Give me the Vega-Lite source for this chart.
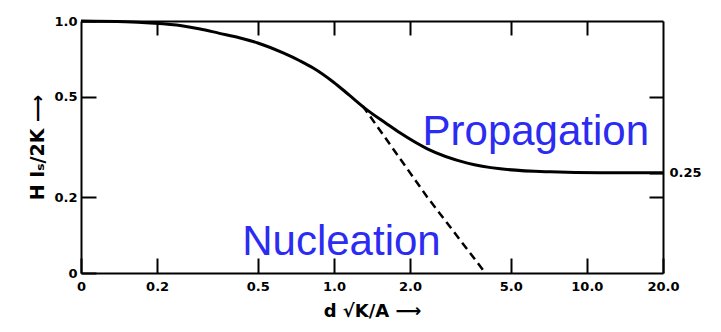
{
  "$schema": "https://vega.github.io/schema/vega-lite/v6.json",
  "autosize": "none",
  "width": 582,
  "height": 252,
  "padding": {"left": 81, "top": 21, "right": 58, "bottom": 59},
  "background": "white",
  "view": {"stroke": null},
  "config": {
    "axis": {
      "domainColor": "black",
      "domainWidth": 2,
      "tickColor": "black",
      "tickWidth": 2,
      "grid": false,
      "labelFont": "DejaVu Sans",
      "labelFontSize": 13,
      "labelFontWeight": "bold",
      "labelColor": "black",
      "titleFont": "DejaVu Sans",
      "titleFontSize": 18,
      "titleFontWeight": "bold",
      "titleColor": "black"
    }
  },
  "datasets": {
    "solid": [
      {"x": 0.1, "y": 1.0},
      {"x": 0.15, "y": 0.993},
      {"x": 0.1875, "y": 0.982},
      {"x": 0.25, "y": 0.958},
      {"x": 0.296, "y": 0.93},
      {"x": 0.35, "y": 0.895},
      {"x": 0.426, "y": 0.856},
      {"x": 0.5, "y": 0.818},
      {"x": 0.63, "y": 0.747},
      {"x": 0.736, "y": 0.694},
      {"x": 0.828, "y": 0.651},
      {"x": 0.994, "y": 0.573},
      {"x": 1.15, "y": 0.508},
      {"x": 1.355, "y": 0.443},
      {"x": 1.6, "y": 0.394},
      {"x": 1.83, "y": 0.359},
      {"x": 2.34, "y": 0.311},
      {"x": 3.37, "y": 0.273},
      {"x": 4.55, "y": 0.259},
      {"x": 7.18, "y": 0.252},
      {"x": 11.3, "y": 0.25},
      {"x": 20, "y": 0.25}
    ],
    "dashed": [
      {"x": 1.3, "y": 0.46},
      {"x": 2.34, "y": 0.2},
      {"x": 3.97, "y": 0.1}
    ],
    "labels": [
      {"x": 2.24, "y": 0.322, "text": "Propagation"},
      {"x": 0.434, "y": 0.118, "text": "Nucleation"}
    ]
  },
  "layer": [
    {
      "data": {"name": "solid"},
      "mark": {"type": "line", "color": "black", "strokeWidth": 3, "interpolate": "monotone"},
      "encoding": {
        "x": {
          "field": "x", "type": "quantitative",
          "scale": {"type": "log", "domain": [0.1, 20]},
          "axis": {
            "orient": "bottom",
            "values": [0.1, 0.2, 0.5, 1, 2, 5, 10, 20],
            "labelExpr": "datum.value == 0.1 ? '0' : format(datum.value, '.1f')",
            "tickSize": -15,
            "labelPadding": 22,
            "labelFlush": false,
            "title": "d √K/A  ⟶",
            "titlePadding": 9
          }
        },
        "y": {
          "field": "y", "type": "quantitative",
          "scale": {"type": "log", "domain": [0.1, 1]},
          "axis": {
            "orient": "left",
            "values": [0.1, 0.2, 0.5, 1],
            "labelExpr": "datum.value == 0.1 ? '0' : format(datum.value, '.1f')",
            "tickSize": -15,
            "labelPadding": 19,
            "labelFlush": false,
            "title": "H Iₛ/2K  ⟶",
            "titleFontSize": 19,
            "titlePadding": 6
          }
        }
      }
    },
    {
      "data": {"name": "dashed"},
      "mark": {"type": "line", "color": "black", "strokeWidth": 2.5, "strokeDash": [8, 5]},
      "encoding": {
        "x": {
          "field": "x", "type": "quantitative",
          "scale": {"type": "log", "domain": [0.1, 20]},
          "axis": {
            "orient": "top",
            "values": [0.2, 0.5, 1, 2, 5, 10],
            "labels": false,
            "tickSize": -14,
            "title": null
          }
        },
        "y": {
          "field": "y", "type": "quantitative",
          "scale": {"type": "log", "domain": [0.1, 1]},
          "axis": {
            "orient": "right",
            "values": [0.2, 0.25, 0.5],
            "labelExpr": "datum.value == 0.25 ? '0.25' : ''",
            "tickSize": -14,
            "labelPadding": 20,
            "title": null
          }
        }
      }
    },
    {
      "data": {"name": "labels"},
      "mark": {"type": "text", "align": "left", "baseline": "alphabetic", "font": "Liberation Sans", "fontSize": 42, "color": "#2b2bf2"},
      "encoding": {
        "x": {"field": "x", "type": "quantitative", "scale": {"type": "log", "domain": [0.1, 20]}, "axis": null},
        "y": {"field": "y", "type": "quantitative", "scale": {"type": "log", "domain": [0.1, 1]}, "axis": null},
        "text": {"field": "text"}
      }
    }
  ],
  "resolve": {"axis": {"x": "independent", "y": "independent"}}
}
